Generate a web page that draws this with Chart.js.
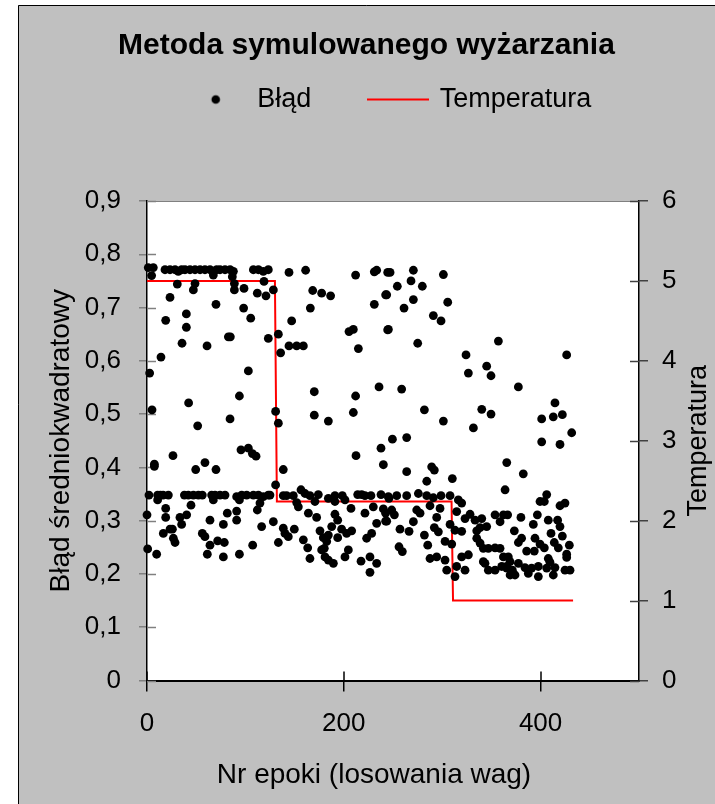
<!DOCTYPE html>
<html>
<head>
<meta charset="utf-8">
<script src="https://cdn.jsdelivr.net/npm/chart.js@4/dist/chart.umd.min.js"></script>
<style>
html,body{margin:0;padding:0;background:#fff;}
#wrap{width:715px;height:804px;}
</style>
</head>
<body>
<div id="wrap"><canvas id="c" width="715" height="804"></canvas></div>
<script>
// ---- data ----
const chartTitle = 'Metoda symulowanego wyżarzania';
const seriesNames = ['Błąd', 'Temperatura'];
const xTitle = 'Nr epoki (losowania wag)';
const yTitle = 'Błąd średniokwadratowy';
const y2Title = 'Temperatura';

// [epoka, błąd]
const bladPoints = [
[1.3,0.775],[6.4,0.775],[18.3,0.771],[23.4,0.771],[28.5,0.771],[31.8,0.768],[35.2,0.771],[38.6,0.771],[43.7,0.771],[48.8,0.771],[53.9,0.771],[58.9,0.771],[64,0.771],[70.8,0.771],[74.2,0.771],[79.3,0.771],[84.4,0.771],[87.8,0.768],[108.1,0.771],[113.2,0.771],[118.2,0.768],[123.3,0.771],
[4.7,0.760],[67.4,0.761],[86.7,0.758],[30.8,0.744],[48.8,0.745],[88.8,0.745],[118.9,0.749],
[47.1,0.733],[88.8,0.733],[98.6,0.736],[112.1,0.727],[120.9,0.722],
[23.4,0.719],[70.1,0.706],[98.2,0.699],[40,0.688],[105.4,0.680],[19,0.676],[40,0.663],[82.7,0.645],[84.7,0.645],[123.3,0.642],[35.6,0.633],[61,0.628],[14.2,0.607],[103,0.581],[2.7,0.577],[93.9,0.534],[42.3,0.521],[5.1,0.508],[84.4,0.491],[51.5,0.478],[95.5,0.433],[103,0.436],[107.1,0.426],[110.8,0.421],[26.4,0.422],[58.9,0.409],[7.5,0.406],[7.5,0.402],[49.5,0.396],[70.1,0.396],
[2,0.348],[10.8,0.348],[13.6,0.348],[16.3,0.348],[21.7,0.348],[38,0.348],[42,0.348],[47.1,0.348],[52.2,0.348],[56.2,0.348],[65.7,0.348],[69.1,0.348],[74.2,0.348],[79.3,0.348],[91.1,0.345],[96.2,0.348],[101.3,0.348],[108.1,0.348],[113.2,0.348],[118.2,0.345],[123.3,0.348],
[10.8,0.339],[67.4,0.339],[93.9,0.339],[44.7,0.329],[114.8,0.333],[112.1,0.320],[19,0.323],[81.6,0.314],[91.1,0.318],[40.3,0.311],[0,0.311],[19,0.306],[33.5,0.306],[64,0.301],[91.1,0.301],[35.2,0.293],[77.6,0.293],[116.5,0.289],[23.4,0.284],[25.8,0.284],[16.6,0.276],[56.2,0.276],[58.9,0.270],[26.8,0.267],[71.8,0.262],[78.6,0.259],[28.5,0.259],[64,0.254],[107.4,0.254],[0.7,0.247],[9.8,0.237],[61.3,0.237],[93.9,0.237],[77.6,0.232],
[128.4,0.733],[168.4,0.732],[177.5,0.727],[186.6,0.722],[166,0.699],[147,0.675],[231,0.706],[242.5,0.724],[205.3,0.655],[209.7,0.659],[244.6,0.658],[133.5,0.650],[214.8,0.623],[144.3,0.628],[152.1,0.628],[158.9,0.628],[135.8,0.615],[170,0.542],[212,0.534],[235.8,0.551],[130.7,0.505],[133.5,0.483],[170,0.498],[184.3,0.487],[209.7,0.503],[237.8,0.436],[212.4,0.422],[240.2,0.405],[138.5,0.396],[130.7,0.367],
[144.3,0.766],[161.2,0.770],[212,0.761],[231,0.767],[233.4,0.770],[244.6,0.766],
[125,0.348],[138.5,0.347],[141.9,0.347],[148.7,0.347],[156.5,0.358],[160.6,0.351],[165.6,0.347],[174.1,0.349],[184.3,0.342],[191,0.347],[198.5,0.347],[214.1,0.349],[218.2,0.349],[221.5,0.347],[227.6,0.347],[237.8,0.349],[245.9,0.342],
[152.1,0.334],[153.8,0.326],[170.7,0.336],[191,0.336],[201.2,0.339],[207.3,0.323],[230,0.326],[240.2,0.322],
[128.4,0.298],[138.5,0.286],[140.2,0.276],[143.6,0.270],[149.7,0.284],[164,0.314],[172.4,0.306],[191,0.312],[193.8,0.301],[187.7,0.289],[197.8,0.284],[202.9,0.276],[208,0.281],[221.5,0.314],[233.4,0.295],[242.5,0.314],[242.5,0.299],
[133.5,0.259],[158.9,0.264],[163.3,0.249],[175.8,0.281],[179.2,0.268],[182.6,0.261],[180.2,0.248],[184.3,0.273],[193.8,0.268],[223.2,0.267],[228.3,0.276],
[165.6,0.229],[177.5,0.245],[180.9,0.232],[184.3,0.226],[189.4,0.220],[201.2,0.232],[204.6,0.245],[217.5,0.224],[226.6,0.232],[233.4,0.220],[226.6,0.203],
[247,0.766],[270.7,0.770],[301.2,0.762],[268.3,0.750],[254.4,0.740],[279.8,0.740],[243.6,0.724],[270.7,0.715],[305.6,0.710],[261.2,0.699],[291,0.685],[298.8,0.675],[245.3,0.659],[275.1,0.633],[357.1,0.637],[324.2,0.611],[345.2,0.590],[326.6,0.577],[349.6,0.572],[258.8,0.547],[281.9,0.508],[301.2,0.487],[340.2,0.509],[349.6,0.500],[331.7,0.474],[249.4,0.453],[263.9,0.456],[365.6,0.409],[263.9,0.392],[289.3,0.401],[292,0.395],[284.3,0.374],[310.3,0.379],[363.9,0.358],
[245.3,0.345],[253.8,0.347],[263.9,0.347],[275.8,0.351],[284.3,0.347],[291,0.343],[298.8,0.347],[308,0.347],[316.4,0.339],[319.8,0.333],
[248.7,0.320],[251.4,0.311],[243.6,0.299],[274.1,0.320],[277.5,0.314],[270.7,0.298],[287.6,0.328],[294.4,0.306],[297.8,0.323],[308,0.293],[313,0.282],[319.8,0.280],[257.1,0.284],[266.3,0.280],[281.9,0.273],[285.3,0.254],[292,0.287],[296.1,0.279],[302.9,0.261],[309.7,0.256],[256.1,0.251],[259.5,0.242],[314.7,0.317],[323.2,0.304],[328.3,0.312],[333.4,0.301],[340.2,0.304],[338.5,0.287],[353.7,0.311],[362.2,0.311],[358.8,0.298],[335.1,0.267],[338.5,0.258],[341.8,0.248],[346.9,0.248],[353.7,0.249],[358.8,0.248],[326.6,0.236],[319.8,0.232],[314.7,0.214],[323.2,0.207],[313,0.195],[304.6,0.207],[302.9,0.226],[287.6,0.229],[294.4,0.232],[341.8,0.223],[346.9,0.207],[362.2,0.232],[360.5,0.214],[365.6,0.211],[369,0.198],[353.7,0.207],[343.5,0.220],[335.1,0.281],[345.2,0.289],
[426.5,0.611],[377.4,0.551],[414.6,0.521],[401.1,0.491],[412.9,0.495],[422.1,0.499],[431.6,0.465],[401.1,0.448],[419.7,0.443],[382.4,0.388],[406.2,0.349],[399.4,0.336],[403.8,0.336],[419.7,0.328],[424.8,0.333],[366.5,0.311],[380,0.306],[396.7,0.311],[407.8,0.301],[417.3,0.301],[392.6,0.293],[373.3,0.281],[410.6,0.276],[419.7,0.289],[422.1,0.271],[380.7,0.267],[377.4,0.259],[394.3,0.267],[399.4,0.256],[403.8,0.249],[413.9,0.259],[418,0.249],[429.2,0.254],[385.8,0.243],[393.6,0.243],[426.5,0.237],[426.5,0.231],[407.8,0.229],[409.5,0.222],[367.2,0.232],[368.9,0.223],[377.4,0.220],[365.5,0.214],[371.3,0.207],[374,0.198],[384.1,0.212],[387.5,0.201],[390.9,0.211],[397.7,0.214],[397.7,0.195],[406.2,0.211],[414.6,0.212],[412.9,0.198],[424.8,0.207],[429.9,0.207]
];

const tempEpochs = [0, 130, 132, 309.5, 311, 433];
const tempValues = [5, 5, 2.24, 2.24, 1, 1];

const xTicks = [0, 200, 400];
const yLeftRange = [0, 0.9];
const yRightRange = [0, 6];
const xRange = [0, 500];

// ---- rendering ----
const FONT = "'Liberation Sans', Arial, Helvetica, sans-serif";

function makeDot(){
  const c = document.createElement('canvas'); c.width = 12; c.height = 12;
  const g = c.getContext('2d'); g.fillStyle = '#000'; g.beginPath(); g.arc(6,6,4.3,0,Math.PI*2); g.fill();
  return c;
}
function makeLine(){
  const c = document.createElement('canvas'); c.width = 62; c.height = 3;
  const g = c.getContext('2d'); g.fillStyle = '#ff0000'; g.fillRect(0,0.5,62,2);
  return c;
}
const legendIcons = [makeDot(), makeLine()];

const framePlugin = {
  id: 'frame',
  beforeDraw(chart){
    const c = chart.ctx, W = chart.width, H = chart.height, a = chart.chartArea;
    c.save();
    c.fillStyle = '#fff'; c.fillRect(0,0,W,H);
    c.fillStyle = '#c0c0c0'; c.fillRect(18,5,W-18,H-5);
    c.strokeStyle = '#000'; c.lineWidth = 1;
    c.beginPath(); c.moveTo(18.5,H); c.lineTo(18.5,5.5); c.lineTo(W,5.5); c.stroke();
    c.fillStyle = '#fff'; c.fillRect(a.left,a.top,a.right-a.left,a.bottom-a.top);
    c.restore();
  },
  beforeDatasetsDraw(chart){
    const c = chart.ctx, a = chart.chartArea, s = chart.scales;
    c.save();
    c.strokeStyle = '#808080'; c.lineWidth = 1;
    c.beginPath(); c.moveTo(a.left, a.top+0.5); c.lineTo(a.right, a.top+0.5); c.stroke();
    c.strokeStyle = '#808080'; c.lineWidth = 1.5;
    s.y.ticks.forEach(t => { const py = Math.round(s.y.getPixelForValue(t.value))+0.5; c.beginPath(); c.moveTo(a.left, py); c.lineTo(a.left+9, py); c.stroke(); });
    c.strokeStyle = '#404040';
    s.y1.ticks.forEach(t => { const py = Math.round(s.y1.getPixelForValue(t.value))+0.5; c.beginPath(); c.moveTo(a.right, py); c.lineTo(a.right-9, py); c.stroke(); });
    c.strokeStyle = '#000'; c.lineWidth = 1.5;
    s.x.ticks.forEach(t => { const px = Math.round(s.x.getPixelForValue(t.value)); c.beginPath(); c.moveTo(px, a.bottom); c.lineTo(px, a.bottom-9); c.stroke(); });
    c.restore();
  },
  afterDraw(chart){
    // axis titles whose placement Chart.js cannot express (right title reads bottom-to-top, x title offset)
    const c = chart.ctx, a = chart.chartArea;
    c.save();
    c.fillStyle = '#000';
    c.textAlign = 'center'; c.textBaseline = 'middle';
    c.font = "27px " + FONT;
    c.translate(699, (a.top + a.bottom) / 2);
    c.rotate(-Math.PI / 2);
    c.fillText(y2Title, 0, 0);
    c.restore();
    c.save();
    c.fillStyle = '#000';
    c.textAlign = 'center'; c.textBaseline = 'middle';
    c.font = "28px " + FONT;
    c.fillText(xTitle, 374, 775);
    c.restore();
  },
  afterUpdate(chart){
    const lg = chart.legend;
    if (lg){ lg.left += 23; lg.right += 23; lg.top -= 78; lg.bottom -= 78; }
  }
};

const chart = new Chart(document.getElementById('c'), {
  type: 'scatter',
  data: {
    datasets: [
      {
        label: seriesNames[0],
        data: bladPoints.map(p => ({x: p[0], y: p[1]})),
        yAxisID: 'y',
        backgroundColor: '#000',
        borderColor: '#000',
        pointRadius: 4.4,
        pointBorderWidth: 0,
        pointHoverRadius: 4.4,
        clip: false,
        order: 1
      },
      {
        label: seriesNames[1],
        type: 'line',
        data: tempEpochs.map((e, i) => ({x: e, y: tempValues[i]})),
        yAxisID: 'y1',
        borderColor: '#ff0000',
        backgroundColor: '#ff0000',
        borderWidth: 2,
        pointRadius: 0,
        tension: 0,
        fill: false,
        order: 2
      }
    ]
  },
  options: {
    responsive: false,
    animation: false,
    events: [],
    layout: { padding: { left: 18, top: 5, right: 0, bottom: 0 } },
    plugins: {
      tooltip: { enabled: false },
      title: {
        display: true,
        text: chartTitle,
        color: '#000',
        font: { family: FONT, size: 30, weight: 'bold', lineHeight: 1.2 },
        padding: { top: 23, bottom: 41 }
      },
      legend: {
        display: true,
        position: 'top',
        labels: {
          color: '#000',
          font: { family: FONT, size: 27 },
          usePointStyle: true,
          pointStyleWidth: 56,
          padding: 59,
          generateLabels(chart){
            return chart.data.datasets.map((d, i) => ({
              text: d.label,
              pointStyle: legendIcons[i],
              fillStyle: '#000',
              strokeStyle: '#000',
              lineWidth: 0,
              hidden: false,
              datasetIndex: i,
              fontColor: '#000'
            }));
          }
        }
      }
    },
    scales: {
      x: {
        type: 'linear',
        position: 'bottom',
        min: xRange[0], max: xRange[1],
        afterBuildTicks(s){ s.ticks = xTicks.map(v => ({value: v})); },
        afterFit(s){ s.height = 123.5; },
        ticks: { color: '#000', font: { family: FONT, size: 26 }, padding: 17, maxRotation: 0, callback: v => String(v) },
        grid: { display: true, drawOnChartArea: false, drawTicks: true, tickLength: 11, color: '#000', lineWidth: 1.5 },
        border: { display: true, color: '#000', width: 2 },
        title: { display: false, text: xTitle }
      },
      y: {
        type: 'linear',
        position: 'left',
        min: yLeftRange[0], max: yLeftRange[1],
        ticks: { stepSize: 0.1, color: '#000', font: { family: FONT, size: 26 }, padding: 18,
          callback: v => (Math.round(v*10) === 0 ? '0' : (Math.round(v*10)/10).toFixed(1).replace('.', ',')) },
        afterFit(s){ s.width = 129; },
        grid: { display: true, drawOnChartArea: false, drawTicks: true, tickLength: 8, color: '#808080', lineWidth: 1.5 },
        border: { display: true, color: '#000', width: 1.5 },
        title: { display: true, text: yTitle, color: '#000', font: { family: FONT, size: 28 }, padding: { top: 26, bottom: 0 } }
      },
      y1: {
        type: 'linear',
        position: 'right',
        min: yRightRange[0], max: yRightRange[1],
        ticks: { stepSize: 1, color: '#000', font: { family: FONT, size: 26 }, padding: 14 },
        afterFit(s){ s.width = 76; },
        grid: { display: true, drawOnChartArea: false, drawTicks: true, tickLength: 9, color: '#404040', lineWidth: 1.5 },
        border: { display: true, color: '#000', width: 1.5 },
        title: { display: false, text: y2Title }
      }
    }
  },
  plugins: [framePlugin]
});
</script>
</body>
</html>
